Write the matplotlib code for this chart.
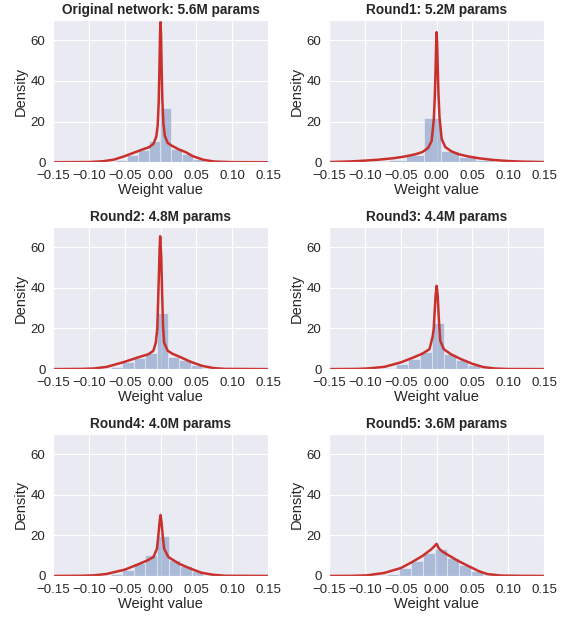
import numpy as np
import matplotlib
matplotlib.use("Agg")
import matplotlib.pyplot as plt
import seaborn as sns

sns.set_style("darkgrid")
plt.rcParams['font.family'] = ['Liberation Sans', 'DejaVu Sans']

titles = ['Original network: 5.6M params', 'Round1: 5.2M params',
          'Round2: 4.8M params', 'Round3: 4.4M params',
          'Round4: 4.0M params', 'Round5: 3.6M params']

# histogram bin edges and densities
edges_0 = [-0.0629, -0.0474, -0.0319, -0.0164, -0.0009, 0.0146, 0.0301, 0.0456, 0.0611, 0.0766]
dens_0 = [1.0, 3.8, 5.8, 10.6, 26.7, 6.5, 4.3, 1.8, 0.5]
edges_1 = [-0.1159, -0.0915, -0.0671, -0.0427, -0.0183, 0.0061, 0.0305, 0.0549, 0.0793, 0.1037, 0.1281]
dens_1 = [0.2, 0.5, 1.3, 3.7, 21.8, 5.6, 2.4, 0.9, 0.3, 0.1]
edges_2 = [-0.0696, -0.0536, -0.0376, -0.0216, -0.0056, 0.0104, 0.0264, 0.0424, 0.0584, 0.0744]
dens_2 = [0.8, 3.5, 5.4, 7.7, 27.8, 6.0, 4.6, 2.2, 0.5]
edges_3 = [-0.0742, -0.0574, -0.0406, -0.0238, -0.0070, 0.0098, 0.0266, 0.0434, 0.0602, 0.0770]
dens_3 = [0.6, 2.3, 4.9, 8.6, 22.8, 7.6, 4.6, 2.0, 0.5]
edges_4 = [-0.0698, -0.0536, -0.0374, -0.0212, -0.0050, 0.0112, 0.0274, 0.0436, 0.0598, 0.0760]
dens_4 = [0.8, 3.0, 6.2, 10.3, 19.5, 8.1, 5.0, 2.3, 0.6]
edges_5 = [-0.0855, -0.0688, -0.0521, -0.0354, -0.0187, -0.0020, 0.0147, 0.0314, 0.0481, 0.0648, 0.0815]
dens_5 = [0.3, 1.1, 4.1, 7.3, 11.5, 13.4, 8.7, 5.4, 2.4, 0.7]

# kde curves
kde_x_0 = [-0.15, -0.10, -0.08, -0.065, -0.05, -0.035, -0.025, -0.016, -0.010, -0.006, -0.004,
           -0.0025, -0.0015, -0.0007, 0, 0.0007, 0.0015, 0.0025, 0.004, 0.006, 0.010, 0.015,
           0.025, 0.035, 0.045, 0.06, 0.075, 0.10, 0.15]
kde_y_0 = [0, 0.1, 0.5, 1.3, 3.0, 5.0, 6.3, 7.4, 9.0, 12.5, 18, 30, 47, 63, 69, 63, 47, 31, 19,
           13, 9.5, 8.3, 6.4, 5.0, 3.0, 1.2, 0.35, 0.05, 0]
kde_x_1 = [-0.15, -0.12, -0.10, -0.08, -0.06, -0.045, -0.03, -0.02, -0.012, -0.007, -0.004,
           -0.0025, -0.0015, -0.0007, 0, 0.0007, 0.0015, 0.0025, 0.004, 0.007, 0.012, 0.02,
           0.03, 0.045, 0.06, 0.08, 0.10, 0.12, 0.15]
kde_y_1 = [0.1, 0.4, 0.8, 1.3, 2.0, 2.8, 3.9, 5.0, 7.0, 10.5, 21, 33, 46, 58, 64, 58, 47, 34,
           22, 11.5, 7.5, 5.5, 4.0, 2.8, 1.9, 1.1, 0.6, 0.3, 0.1]
kde_x_2 = [-0.15, -0.11, -0.093, -0.075, -0.05, -0.032, -0.017, -0.010, -0.0066, -0.0045,
           -0.003, -0.002, -0.0012, -0.0005, 0.0003, 0.001, 0.002, 0.0035, 0.005, 0.01, 0.017,
           0.027, 0.042, 0.058, 0.074, 0.09, 0.15]
kde_y_2 = [0, 0.1, 0.3, 1.1, 3.6, 5.7, 7.3, 9.0, 13, 20, 38, 50, 60, 65.4, 60, 55, 40, 21, 13,
           9, 7.5, 6, 3.6, 1.6, 0.5, 0.1, 0]
kde_x_3 = [-0.15, -0.11, -0.097, -0.073, -0.05, -0.034, -0.02, -0.01, -0.0056, -0.004, -0.003,
           -0.0015, 0, 0.0015, 0.003, 0.005, 0.01, 0.02, 0.034, 0.05, 0.065, 0.081, 0.10, 0.15]
kde_y_3 = [0, 0.1, 0.3, 1.1, 3.3, 5.5, 7.6, 9.8, 16, 20, 27, 36, 41, 36, 25, 14, 9.8, 7.3, 4.9,
           2.6, 1.0, 0.3, 0.05, 0]
kde_x_4 = [-0.15, -0.11, -0.093, -0.075, -0.05, -0.032, -0.018, -0.01, -0.005, -0.003, -0.0015,
           0, 0.0015, 0.003, 0.005, 0.011, 0.026, 0.042, 0.057, 0.073, 0.09, 0.15]
kde_y_4 = [0, 0.1, 0.3, 1.0, 3.1, 5.6, 7.7, 9.3, 13.4, 20, 26, 30, 26, 20, 13.4, 9.3, 6.0, 3.6,
           1.6, 0.6, 0.1, 0]
kde_x_5 = [-0.15, -0.12, -0.097, -0.073, -0.05, -0.036, -0.02, -0.008, -0.003, 0, 0.003, 0.008,
           0.015, 0.03, 0.047, 0.06, 0.071, 0.09, 0.12, 0.15]
kde_y_5 = [0, 0.05, 0.3, 1.5, 3.9, 6.5, 9.8, 13.0, 14.7, 15.8, 13.6, 12.0, 10.5, 7.4, 4.4, 2.2,
           0.9, 0.2, 0.05, 0]

all_edges = [edges_0, edges_1, edges_2, edges_3, edges_4, edges_5]
all_dens = [dens_0, dens_1, dens_2, dens_3, dens_4, dens_5]
all_kde_x = [kde_x_0, kde_x_1, kde_x_2, kde_x_3, kde_x_4, kde_x_5]
all_kde_y = [kde_y_0, kde_y_1, kde_y_2, kde_y_3, kde_y_4, kde_y_5]

xticks = [-0.15, -0.10, -0.05, 0.00, 0.05, 0.10, 0.15]
yticks = [0, 20, 40, 60]

fig, axes = plt.subplots(3, 2, figsize=(5.61, 6.17), dpi=100)
plt.subplots_adjust(left=0.0945, right=0.97, top=0.9676, bottom=0.0665,
                    wspace=0.284, hspace=0.454)

for i, ax in enumerate(axes.flat):
    e = np.array(all_edges[i])
    ax.bar(e[:-1], all_dens[i], width=np.diff(e), align='edge',
           color='#4C72B0', alpha=0.4, edgecolor='white', linewidth=0.8)
    ax.plot(all_kde_x[i], all_kde_y[i], color='#C9302C', lw=1.8)
    ax.set_xlim(-0.15, 0.15)
    ax.set_ylim(0, 70)
    ax.set_xticks(xticks)
    ax.set_xticklabels(['{:.2f}'.format(t).replace('-', '\u2212') for t in xticks])
    ax.set_yticks(yticks)
    ax.tick_params(labelsize=9.5, colors='.15', pad=2)
    ax.set_xlabel('Weight value', fontsize=10.5, color='.15', labelpad=1)
    ax.set_ylabel('Density', fontsize=10.5, color='.15', labelpad=2)
    ax.set_title(titles[i], fontsize=9.8, fontweight='bold', color='.15', pad=4)

fig.savefig('out.png', dpi=100)
